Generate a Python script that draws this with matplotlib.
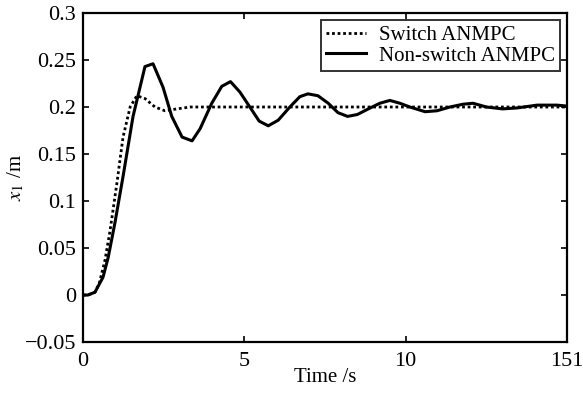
import numpy as np
import matplotlib.pyplot as plt

plt.rcParams['font.family'] = 'Liberation Serif'
plt.rcParams['mathtext.fontset'] = 'stix'

# non-switch ANMPC (solid)
t_ns = [0, 0.15, 0.37, 0.62, 0.78, 0.99, 1.24, 1.55, 1.92, 2.17, 2.48, 2.75, 3.07, 3.38,
        3.63, 3.99, 4.3, 4.57, 4.86, 5.17, 5.46, 5.74, 6.05, 6.41, 6.72, 6.97, 7.28, 7.6,
        7.9, 8.2, 8.5, 8.9, 9.2, 9.51, 9.82, 10.13, 10.6, 10.97, 11.37, 11.78, 12.09, 12.5,
        13.0, 13.45, 14.07, 14.69, 15.0]
x_ns = [0, 0, 0.003, 0.019, 0.04, 0.077, 0.126, 0.19, 0.243, 0.246, 0.221, 0.19, 0.168, 0.164,
        0.177, 0.204, 0.222, 0.227, 0.216, 0.2, 0.185, 0.18, 0.186, 0.2, 0.211, 0.214, 0.212, 0.204,
        0.194, 0.19, 0.192, 0.199, 0.204, 0.207, 0.204, 0.2, 0.195, 0.196, 0.2, 0.203, 0.204, 0.2,
        0.198, 0.199, 0.202, 0.202, 0.201]

# switch ANMPC (dotted)
t_sw = [0, 0.15, 0.37, 0.5, 0.68, 0.84, 1.05, 1.24, 1.46, 1.67, 1.92, 2.23, 2.54, 2.91, 3.32,
        3.63, 5, 10, 15]
x_sw = [0, 0, 0.003, 0.012, 0.037, 0.069, 0.119, 0.168, 0.2, 0.212, 0.209, 0.2, 0.196, 0.198, 0.2,
        0.2, 0.2, 0.2, 0.2]

xticks = [0, 5, 10, 15]
xtick_labels = ['0', '5', '10', '151']
yticks = [-0.05, 0, 0.05, 0.1, 0.15, 0.2, 0.25, 0.3]
ytick_labels = ['\u22120.05', '0', '0.05', '0.1', '0.15', '0.2', '0.25', '0.3']

fig = plt.figure(figsize=(5.83, 4.01), dpi=100)
ax = fig.add_axes([0.1424, 0.147, 0.8302, 0.8206])

ax.plot(t_sw, x_sw, linestyle=(0, (1, 1)), color='black', linewidth=2, label='Switch ANMPC')
ax.plot(t_ns, x_ns, linestyle='-', color='black', linewidth=2.2, label='Non-switch ANMPC')

ax.set_xlim(0, 15)
ax.set_ylim(-0.05, 0.3)
ax.set_xticks(xticks)
ax.set_xticklabels(xtick_labels)
ax.set_yticks(yticks)
ax.set_yticklabels(ytick_labels)
ax.tick_params(direction='in', top=True, right=True, labelsize=16, length=4, width=1.2)
ax.tick_params(axis='x', pad=7)
ax.tick_params(axis='y', pad=5)
for s in ax.spines.values():
    s.set_linewidth(1.6)

ax.set_xlabel('Time /s', fontsize=15, labelpad=-2)
ax.set_ylabel('$x_1$ /m', fontsize=15, labelpad=-1)

leg = ax.legend(loc='upper right', fontsize=15, frameon=True, fancybox=False,
                edgecolor='black', handlelength=1.9, borderpad=0.25, labelspacing=0.05,
                handletextpad=0.6, borderaxespad=0.35)
leg.get_frame().set_linewidth(1.4)

plt.savefig('out.png', dpi=100)
